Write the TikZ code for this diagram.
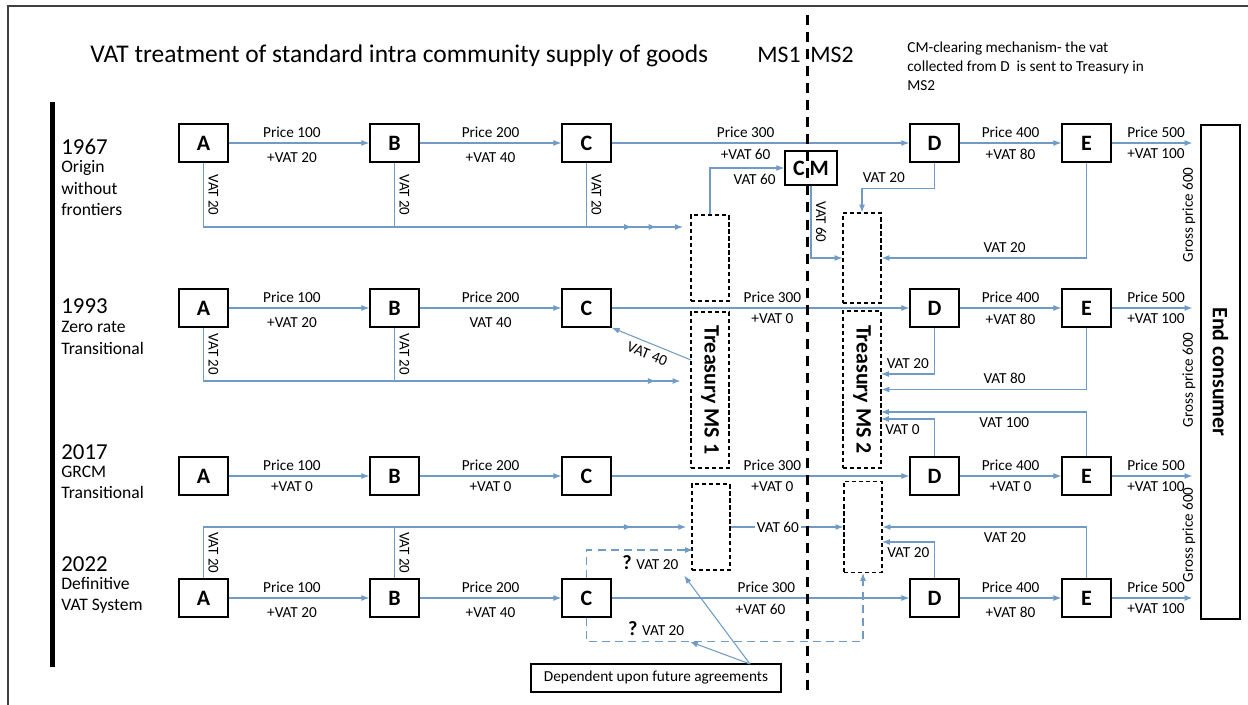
\documentclass[tikz,border=0pt]{standalone}
\usepackage{fontspec}
\setmainfont{Carlito}
\usetikzlibrary{arrows.meta, positioning}
\definecolor{flowblue}{RGB}{112,155,196}

\begin{document}
\begin{tikzpicture}[x=0.02cm, y=-0.02cm,
    block/.style={
        rectangle, draw=black, line width=0.8pt,
        minimum width=0.98cm, minimum height=0.76cm, inner sep=0pt,
        font=\fontsize{12.5}{14}\selectfont\bfseries
    },
    treasury/.style={rectangle, draw=black, line width=0.6pt, dash pattern=on 2.4pt off 1.6pt, minimum width=0.76cm, inner sep=0pt},
    bigname/.style={rotate=-90, font=\fontsize{12.5}{14}\selectfont\bfseries},
    arrow/.style={-{Latex[length=4.5pt,width=3.4pt]}, draw=flowblue, line width=0.6pt},
    maybe/.style={arrow, dash pattern=on 4.5pt off 3pt},
    amount/.style={font=\fontsize{8.7}{10}\selectfont, inner sep=3pt},
    vatdown/.style={font=\fontsize{8.5}{10}\selectfont, inner sep=2.5pt, rotate=-90, anchor=south},
    gross/.style={font=\fontsize{8.6}{10}\selectfont, rotate=90},
    era/.style={font=\fontsize{10}{12.2}\selectfont, align=left, anchor=north west, inner sep=0pt}
]

% Frame
\useasboundingbox (0,0) rectangle (1248,705);
\draw[black!75, line width=0.9pt] (1248,6) -- (8,6) -- (8,705);

% Title and member states
\node[font=\fontsize{14.5}{17}\selectfont, anchor=base west, inner sep=0pt] (title) at (90,63) {VAT treatment of standard intra community supply of goods};
\node[font=\fontsize{13.5}{16}\selectfont, anchor=base east, inner sep=0pt] (ms1) at (801,63) {MS1};
\node[font=\fontsize{13.5}{16}\selectfont, anchor=base west, inner sep=0pt] (ms2) at (810,63) {MS2};
\node[anchor=north west, align=left, inner sep=0pt, font=\fontsize{8.7}{10.8}\selectfont] (cmnote) at (907,42) {CM-clearing mechanism- the vat\\collected from D\ \ is sent to Treasury in\\MS2};

% Timeline
\draw[line width=2.8pt] (52.5,102) -- (52.5,667);
\node[era] (era1) at (61,139) {{\fontsize{13}{14}\selectfont 1967}\\[-2pt]Origin\\without\\frontiers};
\node[era] (era2) at (61,298) {{\fontsize{13}{14}\selectfont 1993}\\[-1pt]Zero rate\\Transitional};
\node[era] (era3) at (61,444) {{\fontsize{13}{14}\selectfont 2017}\\[-2pt]GRCM\\Transitional};
\node[era] (era4) at (61,556) {{\fontsize{13}{14}\selectfont 2022}\\[-2pt]Definitive\\VAT System};

% Treasuries and clearing mechanism
\node[treasury, minimum height=1.72cm] (t1a) at (710,258) {};
\node[treasury, minimum height=3.12cm] (t1b) at (710,390) {};
\node[bigname] at (t1b) {Treasury MS 1};
\node[treasury, minimum height=1.72cm] (t1c) at (711,527) {};
\node[treasury, minimum height=1.8cm] (t2a) at (862,258) {};
\node[treasury, minimum height=3.14cm] (t2b) at (862,389.5) {};
\node[bigname] at (t2b) {Treasury MS 2};
\node[treasury, minimum height=1.82cm] (t2c) at (863,527) {};
\node[block, minimum width=1.04cm, minimum height=0.68cm] (cm) at (811,168) {C M};

% End consumer
\node[rectangle, draw=black, line width=0.8pt, minimum width=0.78cm, minimum height=9.88cm] (endc) at (1220.5,372) {};
\node[bigname] at (endc) {End consumer};
\node[gross] (gp1) at (1189,215) {Gross price 600};
\node[gross] (gp2) at (1189,380) {Gross price 600};
\node[gross] (gp3) at (1189,535) {Gross price 600};

% Row 1967
\node[block] (a1) at (203.5,143) {A};
\node[block] (b1) at (394.5,143) {B};
\node[block] (c1) at (586.5,143) {C};
\node[block] (d1) at (934.5,143) {D};
\node[block] (e1) at (1086.5,143) {E};

\draw[arrow] (a1) -- node[amount, above, pos=0.45] {Price 100} node[amount, below=2pt, pos=0.45] {+VAT 20} (b1);
\draw[arrow] (b1) -- node[amount, above] {Price 200} node[amount, below=2pt] {+VAT 40} (c1);
\draw[arrow] (c1) -- node[amount, above, pos=0.45] {Price 300} node[amount, below, pos=0.45] {+VAT 60} (d1);
\draw[arrow] (d1) -- node[amount, above] {Price 400} node[amount, below] {+VAT 80} (e1);
\draw[arrow, shorten >=4.5pt] (e1) -- node[amount, above] {Price 500} node[amount, below] {+VAT 100} (e1 -| endc.west);

\coordinate (t1a_in) at (690,227);
\draw[arrow, shorten >=4pt] (a1) |- node[vatdown, pos=0.25] {VAT 20} (t1a_in);
\draw[arrow, shorten >=19pt] (b1) |- node[vatdown, pos=0.25] {VAT 20} (t1a_in);
\draw[arrow, shorten >=33pt] (c1) |- node[vatdown, pos=0.25] {VAT 20} (t1a_in);
\draw[arrow] (t1a) |- node[amount, pos=0.8, below] {VAT 60} (cm);
\draw[arrow] (cm) |- node[vatdown, pos=0.25] {VAT 60} (t2a);
\draw[arrow] (d1.south) -- ++(0,26) -| node[amount, pos=0.35, above] {VAT 20} (t2a);
\draw[arrow] (e1) |- node[amount, pos=0.7, above] {VAT 20} (t2a);

% Row 1993
\node[block] (a2) at (203.5,308) {A};
\node[block] (b2) at (394.5,308) {B};
\node[block] (c2) at (586.5,308) {C};
\node[block] (d2) at (934.5,308) {D};
\node[block] (e2) at (1086.5,308) {E};

\draw[arrow] (a2) -- node[amount, above, pos=0.45] {Price 100} node[amount, below=2pt, pos=0.45] {+VAT 20} (b2);
\draw[arrow] (b2) -- node[amount, above] {Price 200} node[amount, below=2pt] {VAT 40} (c2);
\draw[arrow] (c2) -- node[amount, above, pos=0.54] {Price 300} node[amount, below, pos=0.54] {+VAT 0} (d2);
\draw[arrow] (d2) -- node[amount, above] {Price 400} node[amount, below] {+VAT 80} (e2);
\draw[arrow, shorten >=4.5pt] (e2) -- node[amount, above] {Price 500} node[amount, below] {+VAT 100} (e2 -| endc.west);

\coordinate (t1b_in) at (691,381);
\coordinate (t1b_out) at (691,360);
\coordinate (t2b_d) at (881,374);
\draw[arrow, shorten >=6pt] (a2) |- node[vatdown, pos=0.25] {VAT 20} (t1b_in);
\draw[arrow, shorten >=20pt] (b2) |- node[vatdown, pos=0.25] {VAT 20} (t1b_in);
\draw[arrow] (t1b_out) -- node[amount, sloped, below] {VAT 40} (c2.south east);
\draw[arrow] (d2) |- node[amount, pos=0.75, above] {VAT 20} (t2b_d);
\draw[arrow] (e2) |- node[amount, pos=0.7, above] {VAT 80} (t2b);

% Row 2017
\node[block] (a3) at (203.5,476) {A};
\node[block] (b3) at (394.5,476) {B};
\node[block] (c3) at (586.5,476) {C};
\node[block] (d3) at (934.5,476) {D};
\node[block] (e3) at (1086.5,476) {E};

\draw[arrow] (a3) -- node[amount, above, pos=0.45] {Price 100} node[amount, below, pos=0.45] {+VAT 0} (b3);
\draw[arrow] (b3) -- node[amount, above] {Price 200} node[amount, below] {+VAT 0} (c3);
\draw[arrow] (c3) -- node[amount, above, pos=0.54] {Price 300} node[amount, below, pos=0.54] {+VAT 0} (d3);
\draw[arrow] (d3) -- node[amount, above] {Price 400} node[amount, below] {+VAT 0} (e3);
\draw[arrow, shorten >=4.5pt] (e3) -- node[amount, above] {Price 500} node[amount, below] {+VAT 100} (e3 -| endc.west);

\coordinate (t2b_e) at (881,412);
\coordinate (t2b_f) at (881,419);
\draw[arrow] (e3) |- node[amount, pos=0.7, below] {VAT 100} (t2b_e);
\draw[arrow] (d3) |- node[amount, pos=0.8, below] {VAT 0} (t2b_f);

% Row 2022
\node[block] (a4) at (203.5,598) {A};
\node[block] (b4) at (394.5,598) {B};
\node[block] (c4) at (586.5,598) {C};
\node[block] (d4) at (934.5,598) {D};
\node[block] (e4) at (1086.5,598) {E};

\draw[arrow] (a4) -- node[amount, above, pos=0.45] {Price 100} node[amount, below=2pt, pos=0.45] {+VAT 20} (b4);
\draw[arrow] (b4) -- node[amount, above] {Price 200} node[amount, below=2pt] {+VAT 40} (c4);
\draw[arrow] (c4) -- node[amount, above, pos=0.52] {Price 300} node[amount, below, pos=0.5] {+VAT 60} (d4);
\draw[arrow] (d4) -- node[amount, above] {Price 400} node[amount, below=2pt] {+VAT 80} (e4);
\draw[arrow, shorten >=4.5pt] (e4) -- node[amount, above] {Price 500} node[amount, below] {+VAT 100} (e4 -| endc.west);

\coordinate (t1c_q) at (693,550);
\coordinate (t2c_d) at (882,542);
\draw[arrow, shorten >=3pt] (a4) |- node[vatdown, pos=0.25] {VAT 20} (t1c);
\draw[arrow, shorten >=34pt] (b4) |- node[vatdown, pos=0.25] {VAT 20} (t1c);
\draw[arrow] (t1c) -- node[amount, fill=white, inner sep=1pt, pos=0.42] {VAT 60} (t2c);
\draw[arrow] (d4) |- node[amount, pos=0.75, below] {VAT 20} (t2c_d);
\draw[arrow] (e4) |- node[amount, pos=0.7, below] {VAT 20} (t2c);
\draw[maybe] (c4) |- node[amount, pos=0.8, below] (q_up) {{\fontsize{11.5}{12}\selectfont\bfseries ?} VAT 20} (t1c_q);
\draw[maybe] (c4.south) -- ++(0,24) -| node[amount, pos=0.126, above] (q_low) {{\fontsize{11.5}{12}\selectfont\bfseries ?} VAT 20} (t2c);

% Open question
\node[rectangle, draw=black, line width=0.7pt, minimum width=5cm, minimum height=0.56cm, amount] (note) at (656,678) {Dependent upon future agreements};
\coordinate (note_top) at (750,664);
\draw[arrow] (note_top) -- (q_up.south east);
\draw[arrow] (note_top) -- (q_low.south east);

% Divider between member states
\draw[line width=1.7pt, dash pattern=on 5.7pt off 4pt] (807,15) -- (807,690);

\end{tikzpicture}
\end{document}
